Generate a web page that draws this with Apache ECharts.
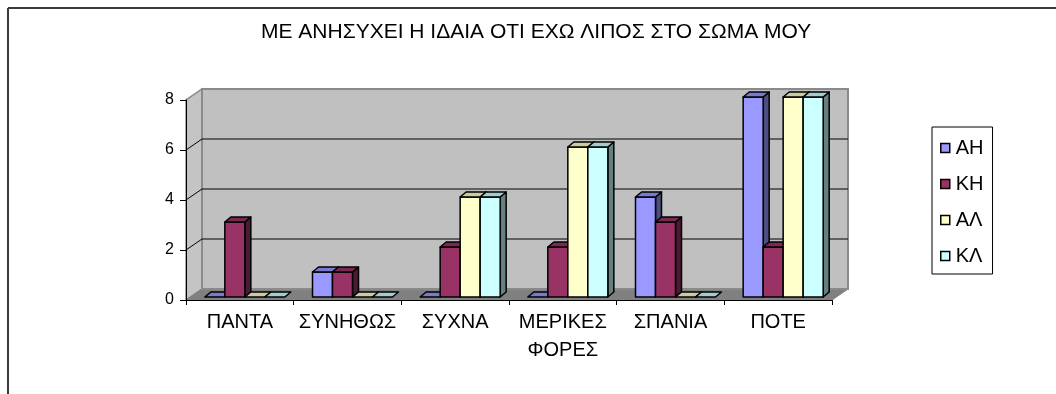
<!DOCTYPE html>
<html>
<head>
<meta charset="utf-8">
<script src="https://cdn.jsdelivr.net/npm/echarts@6/dist/echarts.min.js"></script>
<style>
html,body{margin:0;padding:0;background:#fff;}
#chart{width:1056px;height:394px;}
</style>
</head>
<body>
<div id="chart"></div>
<script>
// ---- data ----
const titleText = 'ΜΕ ΑΝΗΣΥΧΕΙ Η ΙΔΑΙΑ ΟΤΙ ΕΧΩ ΛΙΠΟΣ ΣΤΟ ΣΩΜΑ ΜΟΥ';
const categories = ['ΠΑΝΤΑ', 'ΣΥΝΗΘΩΣ', 'ΣΥΧΝΑ', 'ΜΕΡΙΚΕΣ\nΦΟΡΕΣ', 'ΣΠΑΝΙΑ', 'ΠΟΤΕ'];
const seriesNames = ['ΑΗ', 'ΚΗ', 'ΑΛ', 'ΚΛ'];
const valuesAH = [0, 1, 0, 0, 4, 8];
const valuesKH = [3, 1, 2, 2, 3, 2];
const valuesAL = [0, 0, 4, 6, 0, 8];
const valuesKL = [0, 0, 4, 6, 0, 8];
const yTicks = [0, 2, 4, 6, 8];

// ---- styles ----
const FONT = "'Liberation Sans', Arial, sans-serif";
const faceColors = [
  { front: '#9999FF', top: '#7a7acc', side: '#4d4d80' },
  { front: '#993366', top: '#7a2952', side: '#4d1a33' },
  { front: '#FFFFCC', top: '#ccccA3', side: '#80806a' },
  { front: '#CCFFFF', top: '#a3cccc', side: '#668080' }
];
const WALL_DX = 16, WALL_DY = -11;
const BAR_DX = 5, BAR_DY = -3;
const DEPTH_DX = 6, DEPTH_DY = -5;
const GROUP_RATIO = 0.743;

const yMin = yTicks[0], yMax = yTicks[yTicks.length - 1], yStep = yTicks[1] - yTicks[0];

function renderWalls(params, api) {
  const band = api.size([1, 0])[0];
  const xL = api.coord([0, yMin])[0] - band / 2;
  const xR = api.coord([categories.length - 1, yMin])[0] + band / 2;
  const y0 = api.coord([0, yMin])[1];
  const yT = api.coord([0, yMax])[1];
  const children = [];
  children.push({ type: 'polygon', shape: { points: [[xL, y0], [xL, yT], [xL + WALL_DX, yT + WALL_DY], [xL + WALL_DX, y0 + WALL_DY]] },
    style: { fill: '#c4c4c4', stroke: '#8a8a8a', lineWidth: 1.5 } });
  children.push({ type: 'polygon', shape: { points: [[xL, y0], [xR, y0], [xR + WALL_DX, y0 + WALL_DY], [xL + WALL_DX, y0 + WALL_DY]] },
    style: { fill: '#808080', stroke: '#808080', lineWidth: 1 } });
  children.push({ type: 'rect', shape: { x: xL + WALL_DX, y: yT + WALL_DY, width: xR - xL, height: y0 - yT },
    style: { fill: '#c0c0c0', stroke: '#8a8a8a', lineWidth: 2 } });
  yTicks.forEach(function (v) {
    if (v === yMin || v === yMax) return;
    const y = api.coord([0, v])[1];
    children.push({ type: 'polyline', shape: { points: [[xL, y], [xL + WALL_DX, y + WALL_DY], [xR + WALL_DX, y + WALL_DY]] },
      style: { stroke: '#000', lineWidth: 1, fill: null } });
  });
  return { type: 'group', children: children };
}

function makeBarRenderer(s) {
  const c = faceColors[s];
  return function (params, api) {
    const cat = api.value(0), val = api.value(1);
    const band = api.size([1, 0])[0];
    const groupW = band * GROUP_RATIO;
    const bw = groupW / seriesNames.length;
    const base = api.coord([cat, 0]);
    const top = api.coord([cat, val]);
    const x0 = base[0] - groupW / 2 + s * bw + BAR_DX;
    const x1 = x0 + bw;
    const yb = base[1] + BAR_DY;
    const yt = top[1] + BAR_DY;
    const st = { stroke: '#000', lineWidth: 1.5, lineJoin: 'round' };
    const children = [];
    if (val > 0) {
      children.push({ type: 'polygon', shape: { points: [[x1, yb], [x1, yt], [x1 + DEPTH_DX, yt + DEPTH_DY], [x1 + DEPTH_DX, yb + DEPTH_DY]] },
        style: Object.assign({ fill: c.side }, st) });
      children.push({ type: 'rect', shape: { x: x0, y: yt, width: bw, height: yb - yt },
        style: Object.assign({ fill: c.front }, st) });
    }
    children.push({ type: 'polygon', shape: { points: [[x0, yt], [x1, yt], [x1 + DEPTH_DX, yt + DEPTH_DY], [x0 + DEPTH_DX, yt + DEPTH_DY]] },
      style: Object.assign({ fill: c.top }, st) });
    return { type: 'group', children: children };
  };
}

const allValues = [valuesAH, valuesKH, valuesAL, valuesKL];

const series = [{
  type: 'custom', name: '__walls', renderItem: renderWalls, data: [[0, 0]], silent: true, z: 1
}];
allValues.forEach(function (vals, s) {
  series.push({
    type: 'custom', name: seriesNames[s], renderItem: makeBarRenderer(s), z: 3 + s,
    itemStyle: { color: faceColors[s].front, borderColor: '#000', borderWidth: 1.5 },
    data: vals.map(function (v, i) { return [i, v]; })
  });
});

const chart = echarts.init(document.getElementById('chart'), null, { renderer: 'canvas' });
chart.setOption({
  animation: false,
  backgroundColor: '#fff',
  title: {
    text: titleText, left: 261, top: 22, padding: 0,
    textStyle: { fontFamily: FONT, fontSize: 21, fontWeight: 'normal', color: '#000', lineHeight: 21 }
  },
  graphic: [
    { type: 'line', shape: { x1: 8, y1: 8, x2: 1056, y2: 8 }, style: { stroke: '#3a3a3a', lineWidth: 2 } },
    { type: 'line', shape: { x1: 8, y1: 8, x2: 8, y2: 394 }, style: { stroke: '#3a3a3a', lineWidth: 2 } }
  ],
  legend: {
    orient: 'vertical', left: 932, top: 127,
    padding: [11, 9, 8, 8], itemGap: 16, itemWidth: 9, itemHeight: 9,
    borderColor: '#000', borderWidth: 1,
    textStyle: { fontFamily: FONT, fontSize: 20, color: '#000', lineHeight: 20, padding: [0, 0, 0, 1] },
    data: seriesNames.map(function (n, s) {
      return { name: n, icon: 'rect', itemStyle: { color: faceColors[s].front, borderColor: '#000', borderWidth: 1.5 } };
    })
  },
  grid: { left: 186, top: 100, width: 646, height: 200 },
  xAxis: {
    type: 'category', data: categories, boundaryGap: true, z: 10,
    axisLine: { show: true, lineStyle: { color: '#000', width: 1 } },
    axisTick: { show: true, interval: 0, length: 5, lineStyle: { color: '#000' } },
    axisLabel: { interval: 0, margin: 8, fontFamily: FONT, fontSize: 20, color: '#000', lineHeight: 28 },
    splitLine: { show: false }
  },
  yAxis: {
    type: 'value', min: yMin, max: yMax, interval: yStep, z: 10,
    axisLine: { show: true, lineStyle: { color: '#000', width: 1 } },
    axisTick: { show: true, length: 6, lineStyle: { color: '#000' } },
    axisLabel: { margin: 12, fontFamily: FONT, fontSize: 16, color: '#000' },
    splitLine: { show: false }
  },
  series: series
});
</script>
</body>
</html>
